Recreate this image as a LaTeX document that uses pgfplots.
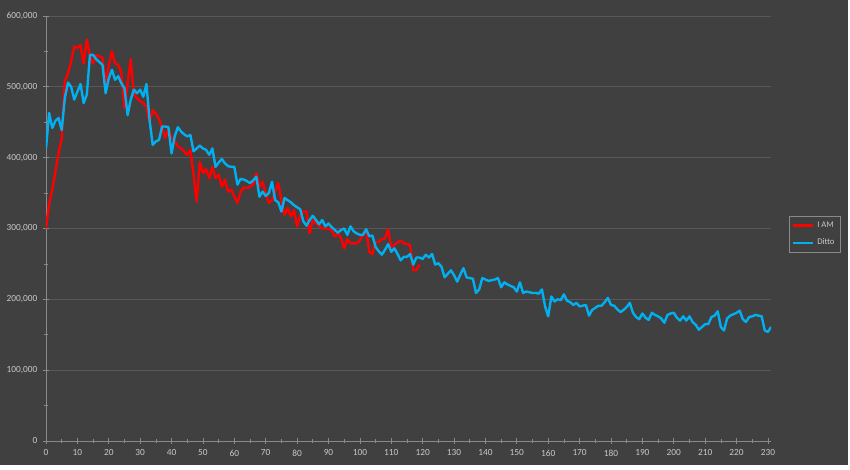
\documentclass[border=0pt]{standalone}
\usepackage{pgfplots}
\pgfplotsset{compat=1.18}
\usepackage{fontspec}
\setmainfont{Carlito}
\definecolor{bg}{HTML}{404040}
\definecolor{gridc}{HTML}{585858}
\definecolor{axc}{HTML}{8A8A8A}
\definecolor{txt}{HTML}{C8C8C8}
\definecolor{iamred}{HTML}{FF0000}
\definecolor{dittoblue}{HTML}{00B0F0}
\begin{document}
\begin{tikzpicture}
% background: 1px = 0.75pt, axis origin at pixel (46,441)
\fill[white] (-34.5pt,-21.75pt) rectangle (603pt,330.75pt);
\fill[bg] (-34.5pt,-18pt) rectangle (601.5pt,330.75pt);
\begin{axis}[
  at={(0,0)}, anchor=south west,
  scale only axis,
  width=543.8pt, height=318.75pt,
  xmin=0, xmax=231, ymin=0, ymax=600000,
  axis x line*=bottom, axis y line*=left,
  axis line style={axc, line width=0.6pt},
  xtick={0,10,...,230}, minor x tick num=1,
  ytick={0,100000,...,600000}, minor y tick num=1,
  tick align=center,
  major tick length=4pt, minor tick length=3pt,
  tick style={axc, line width=0.5pt},
  ymajorgrids, grid style={gridc, line width=0.6pt},
  scaled y ticks=false,
  /pgf/number format/.cd, fixed, set thousands separator={,}, assume math mode=true,
  /pgfplots/.cd,
  ticklabel style={text=txt, font=\fontsize{7}{8}\selectfont},
  xticklabel style={yshift=-1pt},
  yticklabel style={xshift=-1pt},
  legend style={at={(1.025,0.529)}, anchor=north west, fill=none, draw=axc,
    text=txt, font=\fontsize{6.5}{8}\selectfont, inner sep=2pt, row sep=3pt, line width=0.5pt},
  legend cell align=left,
  legend image code/.code={\draw[#1, line width=1.8pt] (0pt,0pt) -- (15pt,0pt);},
]
\addplot[iamred, line width=1.8pt, line join=round] coordinates {
(0,300000)(1,335000)(2,355000)(3,380000)(4,406000)(5,427000)(6,508000)(7,519000)(8,535000)(9,557000)
(10,555000)(11,559000)(12,533000)(13,567000)(14,543000)(15,533000)(16,545000)(17,543000)(18,541000)(19,505000)
(20,530000)(21,550000)(22,533000)(23,531000)(24,520000)(25,470000)(26,505000)(27,539000)(28,489000)(29,484000)
(30,480000)(31,477000)(32,472000)(33,450000)(34,467000)(35,462000)(36,455000)(37,442000)(38,428000)(39,439000)
(40,428000)(41,423000)(42,416000)(43,413000)(44,409000)(45,404000)(46,411000)(47,376000)(48,338000)(49,394000)
(50,378000)(51,384000)(52,371000)(53,387000)(54,371000)(55,376000)(56,359000)(57,369000)(58,352000)(59,355000)
(60,345000)(61,336000)(62,352000)(63,358000)(64,357000)(65,359000)(66,362000)(67,378000)(68,359000)(69,366000)
(70,350000)(71,336000)(72,340000)(73,352000)(74,364000)(75,340000)(76,319000)(77,329000)(78,317000)(79,326000)
(80,303000)(81,319000)(82,324000)(83,324000)(84,293000)(85,312000)(86,307000)(87,304000)(88,300000)(89,300000)
(90,300000)(91,297000)(92,289000)(93,293000)(94,286000)(95,272000)(96,285000)(97,279000)(98,279000)(99,279000)
(100,283000)(101,291000)(102,298000)(103,267000)(104,264000)(105,281000)(106,281000)(107,285000)(108,286000)(109,299000)
(110,274000)(111,277000)(112,280000)(113,283000)(114,279000)(115,278000)(116,277000)(117,241000)(118,241000)(119,249000)
};
\addlegendentry{I AM}
\addplot[dittoblue, line width=1.8pt, line join=round] coordinates {
(0,413000)(1,463000)(2,442000)(3,452000)(4,456000)(5,439000)(6,484000)(7,506000)(8,500000)(9,482000)
(10,493000)(11,504000)(12,477000)(13,489000)(14,545000)(15,545000)(16,539000)(17,535000)(18,531000)(19,491000)
(20,512000)(21,524000)(22,510000)(23,515000)(24,505000)(25,498000)(26,460000)(27,482000)(28,496000)(29,491000)
(30,496000)(31,486000)(32,504000)(33,453000)(34,418000)(35,423000)(36,425000)(37,444000)(38,444000)(39,443000)
(40,406000)(41,430000)(42,443000)(43,437000)(44,433000)(45,430000)(46,432000)(47,409000)(48,413000)(49,417000)
(50,413000)(51,411000)(52,404000)(53,413000)(54,387000)(55,393000)(56,398000)(57,392000)(58,388000)(59,387000)
(60,387000)(61,362000)(62,370000)(63,369000)(64,367000)(65,364000)(66,368000)(67,373000)(68,345000)(69,352000)
(70,346000)(71,350000)(72,366000)(73,340000)(74,337000)(75,324000)(76,343000)(77,340000)(78,337000)(79,333000)
(80,330000)(81,327000)(82,310000)(83,304000)(84,312000)(85,318000)(86,312000)(87,306000)(88,312000)(89,303000)
(90,307000)(91,302000)(92,298000)(93,294000)(94,298000)(95,300000)(96,291000)(97,303000)(98,296000)(99,293000)
(100,291000)(101,291000)(102,299000)(103,289000)(104,290000)(105,274000)(106,268000)(107,263000)(108,270000)(109,278000)
(110,267000)(111,272000)(112,264000)(113,255000)(114,260000)(115,260000)(116,264000)(117,249000)(118,259000)(119,259000)
(120,257000)(121,263000)(122,259000)(123,264000)(124,249000)(125,251000)(126,246000)(127,231000)(128,236000)(129,241000)
(130,234000)(131,225000)(132,235000)(133,244000)(134,231000)(135,230000)(136,229000)(137,209000)(138,214000)(139,230000)
(140,228000)(141,226000)(142,227000)(143,228000)(144,230000)(145,217000)(146,224000)(147,221000)(148,219000)(149,217000)
(150,211000)(151,224000)(152,209000)(153,211000)(154,210000)(155,209000)(156,209000)(157,208000)(158,214000)(159,190000)
(160,176000)(161,204000)(162,197000)(163,200000)(164,199000)(165,207000)(166,198000)(167,196000)(168,192000)(169,195000)
(170,190000)(171,191000)(172,192000)(173,177000)(174,185000)(175,188000)(176,191000)(177,191000)(178,196000)(179,202000)
(180,192000)(181,191000)(182,186000)(183,182000)(184,185000)(185,189000)(186,195000)(187,181000)(188,175000)(189,172000)
(190,180000)(191,174000)(192,171000)(193,181000)(194,178000)(195,176000)(196,173000)(197,167000)(198,178000)(199,180000)
(200,181000)(201,174000)(202,170000)(203,176000)(204,170000)(205,176000)(206,168000)(207,164000)(208,157000)(209,161000)
(210,165000)(211,165000)(212,175000)(213,177000)(214,183000)(215,161000)(216,156000)(217,173000)(218,177000)(219,179000)
(220,181000)(221,184000)(222,172000)(223,168000)(224,175000)(225,176000)(226,178000)(227,177000)(228,176000)(229,156000)
(230,154000)(231,161000)
};
\addlegendentry{Ditto}
\end{axis}
\end{tikzpicture}
\end{document}
